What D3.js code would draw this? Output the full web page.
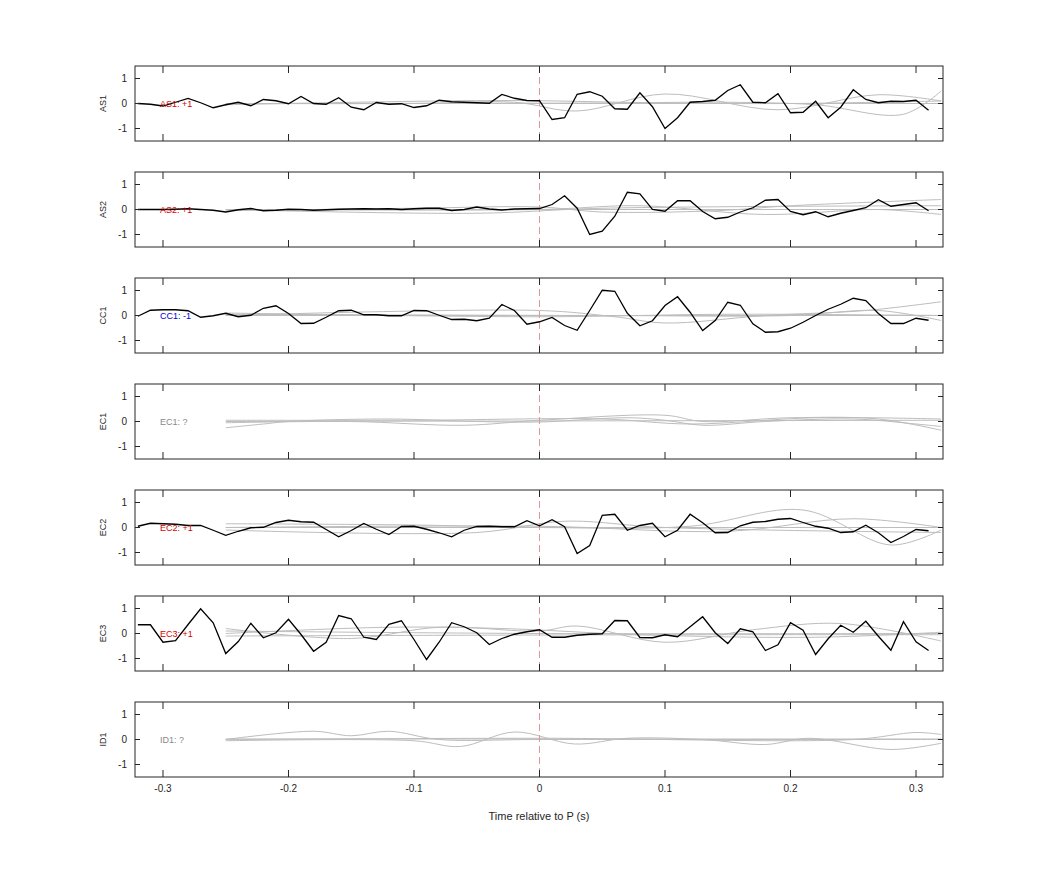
<!DOCTYPE html>
<html>
<head>
<meta charset="utf-8">
<script src="https://cdn.jsdelivr.net/npm/d3@7"></script>
<style>
  body { margin: 0; background: #fff; font-family: Helvetica, "Liberation Sans", Arial, sans-serif; }
</style>
</head>
<body>
<svg id="chart" width="1042" height="875"></svg>
<script>
// channel names and polarity labels
var channels = ['AS1', 'AS2', 'CC1', 'EC1', 'EC2', 'EC3', 'ID1'];
var polarity = ['+1', '+1', '-1', '?', '+1', '+1', '?'];
var label_colors = ['#d40000', '#d40000', '#0000d4', '#888', '#d40000', '#d40000', '#888'];

// sample times of the black traces, -0.32 .. 0.31 s
var times = d3.range(64).map(i => Math.round((-0.32 + i * 0.01) * 100) / 100);

var x_ticks = [-0.3, -0.2, -0.1, 0, 0.1, 0.2, 0.3];
var y_ticks = [-1, 0, 1];

// black traces (null = no trace)
var trace_as1 = [0, -0.03, -0.1, 0.05, 0.2, 0.03, -0.17, -0.05, 0.05, -0.09, 0.16, 0.11, -0.01, 0.28, 0, -0.03,
  0.23, -0.15, -0.25, 0.04, -0.03, -0.01, -0.16, -0.09, 0.13, 0.07, 0.05, 0.03, 0.01, 0.36, 0.21, 0.12,
  0.11, -0.64, -0.57, 0.37, 0.47, 0.29, -0.21, -0.23, 0.43, -0.13, -1.0, -0.57, 0.05, 0.08, 0.13, 0.52,
  0.75, 0.05, 0.03, 0.39, -0.37, -0.35, 0.09, -0.57, -0.15, 0.55, 0.16, 0.03, 0.09, 0.08, 0.13, -0.27];
var trace_as2 = [0, 0, 0, 0.01, 0.03, 0, -0.03, -0.1, -0.01, 0.04, -0.05, -0.03, 0.01, 0, -0.03, -0.01,
  0.01, 0.02, 0.03, 0.02, 0.03, 0, 0.03, 0.05, 0.05, -0.04, 0, 0.1, 0.02, -0.02, 0.02, 0.03,
  0.04, 0.2, 0.55, 0.05, -1.0, -0.87, -0.27, 0.69, 0.63, 0, -0.07, 0.35, 0.35, -0.08, -0.37, -0.31,
  -0.1, 0.07, 0.37, 0.4, -0.08, -0.21, -0.09, -0.29, -0.15, -0.04, 0.07, 0.39, 0.13, 0.2, 0.27, -0.05];
var trace_cc1 = [-0.03, 0.21, 0.23, 0.23, 0.19, -0.07, -0.01, 0.09, -0.05, 0.01, 0.29, 0.39, 0.08, -0.32, -0.31, -0.07,
  0.19, 0.21, 0.03, 0.03, -0.01, -0.01, 0.2, 0.19, 0.01, -0.16, -0.15, -0.21, -0.11, 0.44, 0.2, -0.35,
  -0.25, -0.08, -0.4, -0.59, 0.2, 1.01, 0.97, 0.09, -0.41, -0.21, 0.4, 0.75, 0.13, -0.6, -0.2, 0.53,
  0.41, -0.33, -0.67, -0.65, -0.51, -0.27, 0, 0.25, 0.45, 0.69, 0.6, 0.08, -0.32, -0.32, -0.11, -0.19];
var trace_ec1 = null;
var trace_ec2 = [0.05, 0.17, 0.15, 0.13, 0.08, 0.08, -0.11, -0.31, -0.15, -0.01, 0.01, 0.2, 0.29, 0.23, 0.21, -0.08,
  -0.37, -0.12, 0.16, -0.07, -0.28, 0.04, 0.05, -0.07, -0.21, -0.37, -0.11, 0.04, 0.05, 0.03, 0.03, 0.27,
  0.07, 0.31, 0.03, -1.04, -0.72, 0.49, 0.53, -0.11, 0.08, 0.17, -0.37, -0.11, 0.53, 0.19, -0.21, -0.2,
  0.07, 0.21, 0.24, 0.33, 0.36, 0.2, 0.05, -0.03, -0.2, -0.17, 0.09, -0.21, -0.6, -0.36, -0.08, -0.13];
var trace_ec3 = [0.35, 0.35, -0.35, -0.29, 0.36, 0.99, 0.43, -0.8, -0.32, 0.41, -0.17, 0.03, 0.57, -0.04, -0.71, -0.35,
  0.72, 0.59, -0.15, -0.24, 0.37, 0.51, -0.24, -1.04, -0.35, 0.43, 0.27, 0.03, -0.44, -0.2, -0.03, 0.07,
  0.15, -0.15, -0.15, -0.07, -0.03, -0.01, 0.52, 0.51, -0.16, -0.17, -0.05, -0.13, 0.27, 0.67, 0.03, -0.4,
  0.19, 0.07, -0.68, -0.45, 0.43, 0.13, -0.84, -0.21, 0.33, 0.05, 0.49, -0.11, -0.67, 0.47, -0.33, -0.68];
var trace_id1 = null;
var black_traces = [trace_as1, trace_as2, trace_cc1, trace_ec1, trace_ec2, trace_ec3, trace_id1];

// gray reference traces as [time, value] points
var gray_as1 = [
  [[-0.25, 0], [-0.1, 0], [-0.02, 0.05], [0.03, -0.3], [0.1, 0.38], [0.19, -0.25], [0.27, 0.35], [0.32, 0.1]],
  [[-0.25, 0], [0.05, 0.02], [0.15, 0.05], [0.22, -0.05], [0.29, -0.43], [0.32, 0.5]],
  [[-0.25, -0.05], [-0.03, 0.12], [0.1, 0.02], [0.2, 0], [0.32, 0.1]],
  [[-0.25, 0], [0.32, 0]]];
var gray_as2 = [
  [[-0.25, -0.05], [-0.1, 0.05], [0, 0.1], [0.05, -0.1], [0.14, -0.05], [0.2, 0.15], [0.32, 0.4]],
  [[-0.25, 0], [0, 0], [0.08, 0.15], [0.18, -0.2], [0.27, 0], [0.32, -0.2]],
  [[-0.25, 0], [-0.05, -0.15], [0.05, 0.05], [0.32, 0.15]],
  [[-0.25, 0], [0.32, 0]]];
var gray_cc1 = [
  [[-0.25, 0], [0, 0.2], [0.06, -0.05], [0.1, -0.3], [0.18, 0], [0.26, 0.2], [0.32, 0.55]],
  [[-0.25, 0.05], [0.05, 0], [0.2, 0], [0.27, 0.2], [0.32, -0.2]],
  [[-0.25, 0.1], [0, -0.05], [0.15, 0.05], [0.32, 0]],
  [[-0.25, 0], [0.32, 0]]];
var gray_ec1 = [
  [[-0.25, -0.25], [-0.22, -0.1], [-0.2, 0], [-0.12, 0.1], [-0.05, 0], [0, -0.02], [0.07, 0.15], [0.1, 0.05],
    [0.13, -0.15], [0.18, 0], [0.25, 0.1], [0.3, -0.1], [0.32, -0.2]],
  [[-0.25, -0.05], [-0.15, 0], [-0.06, -0.15], [0, 0.05], [0.1, 0.25], [0.13, 0], [0.2, 0.15], [0.27, 0.1], [0.32, -0.35]],
  [[-0.25, 0.05], [-0.1, 0.05], [0.05, 0.1], [0.12, -0.1], [0.22, 0.15], [0.32, 0.1]],
  [[-0.25, 0], [0.32, 0.05]]];
var gray_ec2 = [
  [[-0.25, 0.15], [-0.1, 0.1], [0, 0], [0.12, 0.05], [0.21, 0.7], [0.28, -0.7], [0.32, -0.1]],
  [[-0.25, 0], [0, 0.05], [0.15, -0.15], [0.25, 0.35], [0.32, 0]],
  [[-0.25, -0.1], [-0.05, -0.2], [0.02, 0.25], [0.1, 0], [0.32, -0.2]],
  [[-0.25, 0], [0.32, 0]]];
var gray_ec3 = [
  [[-0.25, 0.2], [-0.15, -0.2], [-0.08, 0.25], [0, 0.1], [0.03, 0.3], [0.1, -0.35], [0.17, 0.15], [0.24, 0.4], [0.32, -0.3]],
  [[-0.25, 0], [-0.12, 0.25], [-0.03, 0.2], [0.08, -0.05], [0.22, -0.15], [0.32, 0.05]],
  [[-0.25, 0.1], [0, 0], [0.32, 0]],
  [[-0.25, -0.1], [0.1, -0.05], [0.32, -0.05]]];
var gray_id1 = [
  [[-0.25, 0], [-0.18, 0.33], [-0.15, 0.15], [-0.12, 0.33], [-0.08, 0], [0, 0], [0.32, 0]],
  [[-0.25, -0.05], [-0.1, -0.05], [-0.063, -0.28], [-0.02, 0.3], [0.028, -0.18], [0.07, 0.05], [0.13, 0],
    [0.18, -0.2], [0.215, 0.05], [0.28, -0.4], [0.32, -0.15]],
  [[-0.25, 0], [0, 0.05], [0.25, 0], [0.3, 0.28], [0.32, 0.2]],
  [[-0.25, 0.02], [0.32, 0.02]]];
var gray_traces = [gray_as1, gray_as2, gray_cc1, gray_ec1, gray_ec2, gray_ec3, gray_id1];

var svg = d3.select('#chart');
var left = 135, right = 943, panel_top = 66, panel_h = 75, panel_step = 106;
var axis_color = '#262626';

var x = d3.scaleLinear().domain([-0.3223, 0.3215]).range([left, right]);

channels.forEach(function (name, i) {
  var top = panel_top + i * panel_step;
  var y = d3.scaleLinear().domain([-1.5, 1.5]).range([top + panel_h, top]);
  var g = svg.append('g');

  g.append('defs').append('clipPath').attr('id', 'clip' + i)
    .append('rect').attr('x', left).attr('y', top).attr('width', right - left).attr('height', panel_h);

  var plot = g.append('g').attr('clip-path', 'url(#clip' + i + ')');

  // gray traces
  var gray_line = d3.line().x(d => x(d[0])).y(d => y(d[1])).curve(d3.curveCatmullRom);
  plot.selectAll('path.gray')
    .data(gray_traces[i])
    .enter()
    .append('path')
    .attr('d', gray_line)
    .attr('fill', 'none')
    .attr('stroke', '#bdbdbd')
    .attr('stroke-width', 1);

  // zero marker
  plot.append('line')
    .attr('x1', x(0)).attr('x2', x(0)).attr('y1', top).attr('y2', top + panel_h)
    .attr('stroke', '#d99').attr('stroke-width', 1).attr('stroke-dasharray', '7,4');

  // black trace
  if (black_traces[i]) {
    var black_line = d3.line().x((d, k) => x(times[k])).y(d => y(d));
    plot.append('path')
      .attr('d', black_line(black_traces[i]))
      .attr('fill', 'none')
      .attr('stroke', '#000')
      .attr('stroke-width', 1.3);
  }

  // channel label
  g.append('text')
    .attr('x', 160).attr('y', y(0) + 3)
    .attr('font-size', 9)
    .attr('fill', label_colors[i])
    .text(name + ': ' + polarity[i]);

  // frame
  g.append('rect')
    .attr('x', left).attr('y', top).attr('width', right - left).attr('height', panel_h)
    .attr('fill', 'none').attr('stroke', axis_color).attr('stroke-width', 1);

  // x ticks (top and bottom, inward)
  x_ticks.forEach(function (t) {
    g.append('line').attr('x1', x(t)).attr('x2', x(t)).attr('y1', top).attr('y2', top + 7)
      .attr('stroke', axis_color);
    g.append('line').attr('x1', x(t)).attr('x2', x(t)).attr('y1', top + panel_h).attr('y2', top + panel_h - 7)
      .attr('stroke', axis_color);
  });

  // y ticks (left and right, inward)
  y_ticks.forEach(function (v) {
    g.append('line').attr('x1', left).attr('x2', left + 5).attr('y1', y(v)).attr('y2', y(v))
      .attr('stroke', axis_color);
    g.append('line').attr('x1', right).attr('x2', right - 5).attr('y1', y(v)).attr('y2', y(v))
      .attr('stroke', axis_color);
    g.append('text')
      .attr('x', left - 8).attr('y', y(v) + 3.5)
      .attr('text-anchor', 'end')
      .attr('font-size', 10)
      .attr('fill', axis_color)
      .text(v);
  });

  // y label
  g.append('text')
    .attr('transform', 'translate(106,' + y(0) + ') rotate(-90)')
    .attr('text-anchor', 'middle')
    .attr('font-size', 9)
    .attr('fill', axis_color)
    .text(name);

  // x tick labels on the last panel only
  if (i === channels.length - 1) {
    x_ticks.forEach(function (t) {
      g.append('text')
        .attr('x', x(t)).attr('y', top + panel_h + 15)
        .attr('text-anchor', 'middle')
        .attr('font-size', 10)
        .attr('fill', axis_color)
        .text(t);
    });
    g.append('text')
      .attr('x', (left + right) / 2).attr('y', top + panel_h + 43)
      .attr('text-anchor', 'middle')
      .attr('font-size', 11)
      .attr('fill', axis_color)
      .text('Time relative to P (s)');
  }
});
</script>
</body>
</html>
